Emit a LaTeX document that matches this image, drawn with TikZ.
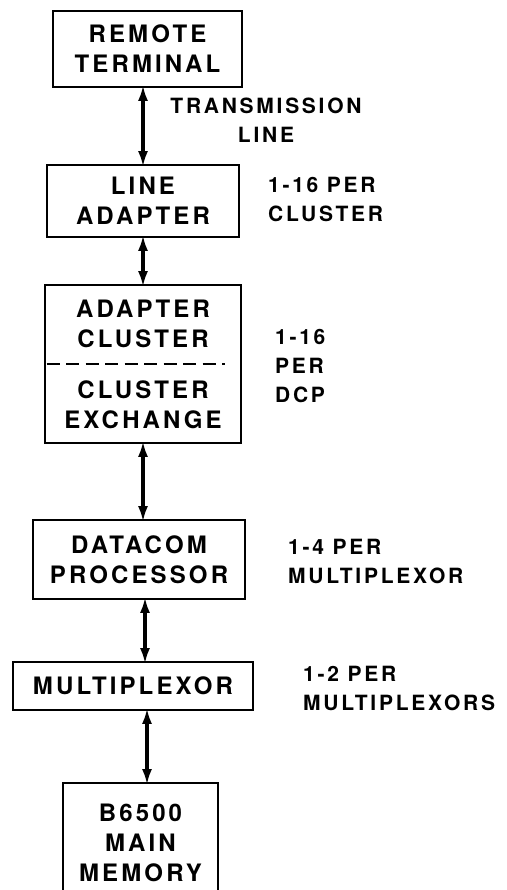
\documentclass[tikz,border=0pt]{standalone}
\usepackage{fontspec}
\setmainfont{TeX Gyre Heros}
\newfontfamily\blockfont[LetterSpace=13]{TeX Gyre Heros}
\usetikzlibrary{arrows.meta}
\tikzset{>={Latex[length=16pt,width=10pt]}}
\tikzstyle{unit}=[draw,line width=2.8pt,inner sep=0pt,align=center,font={\blockfont\bfseries\fontsize{24}{30}\selectfont}]
\tikzstyle{note}=[inner sep=0pt,align=left,anchor=west,font={\blockfont\bfseries\fontsize{21}{29}\selectfont}]
\tikzstyle{link}=[<->,line width=3.6pt,shorten <=-3.5pt,shorten >=-3.5pt]

\begin{document}
\begin{tikzpicture}[x=1pt,y=-1pt]
	\useasboundingbox (0,0) rectangle (506,890);
	\clip (0,0) rectangle (506,890);

	\node[unit,minimum width=189pt,minimum height=76pt] (term) at (147.5,49) {REMOTE\\TERMINAL};
	\node[unit,minimum width=192pt,minimum height=72pt] (adapt) at (143,201) {LINE\\ADAPTER};
	\node[unit,minimum width=196pt,minimum height=158pt] (clus) at (143,364) {ADAPTER\\CLUSTER\\[21pt]CLUSTER\\EXCHANGE};
	\node[unit,minimum width=212pt,minimum height=79pt] (dcp) at (139,559.5) {DATACOM\\PROCESSOR};
	\node[unit,minimum width=240pt,minimum height=48pt] (mux) at (133,686) {MULTIPLEXOR};
	\node[unit,minimum width=155pt,minimum height=120pt,text depth=0pt] (mem) at (140.5,843) {B6500\\MAIN\\MEMORY};

	\draw[line width=2.4pt,dash pattern=on 13pt off 6.5pt] ([xshift=3pt]clus.west) -- ([xshift=-17pt]clus.east);

	\node[note,anchor=center,align=center] (trans) at (266,120) {TRANSMISSION\\LINE};
	\node[note] (perclus) at (268,199) {1-16 PER\\CLUSTER};
	\node[note] (perdcp) at (275,366) {1-16\\PER\\DCP};
	\node[note] (permux) at (288,561.5) {1-4 PER\\MULTIPLEXOR};
	\node[note] (permuxs) at (303,688) {1-2 PER\\MULTIPLEXORS};

	\draw[link] (adapt.north |- term.south) -- (adapt.north);
	\draw[link] (adapt.south) -- (adapt.south |- clus.north);
	\draw[link] (clus.south) -- (clus.south |- dcp.north);
	\draw[link] ([xshift=6pt]dcp.south) -- ([xshift=6pt]dcp.south |- mux.north);
	\draw[link] ([xshift=6.5pt]mem.north |- mux.south) -- ([xshift=6.5pt]mem.north);
\end{tikzpicture}
\end{document}
